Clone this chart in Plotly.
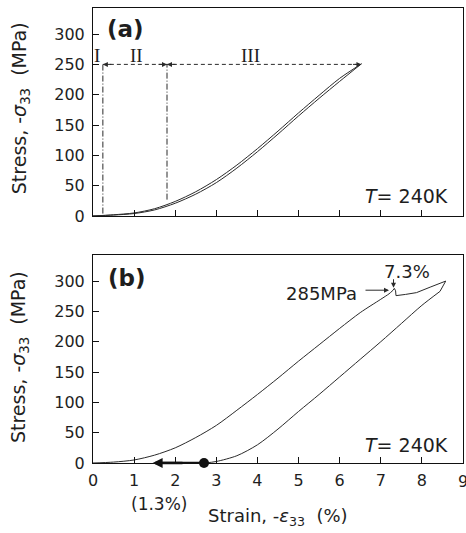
import plotly.graph_objects as go

# ---------------- data ----------------
# panel (a): elastic loop, T = 240K
a_load_strain = [0, 0.5, 1, 1.5, 2, 2.5, 3, 3.5, 4, 4.5, 5, 5.5, 6, 6.53]
a_load_stress = [0, 1.5, 4, 10, 21, 36, 55, 79, 106, 135, 165, 194, 222, 251]
a_unload_strain = [6.53, 6, 5.5, 5, 4.5, 4, 3.5, 3, 2.5, 2, 1.5, 1, 0.5, 0]
a_unload_stress = [251, 227, 199, 170, 140, 111, 84, 60, 40, 24, 12, 5, 2, 0]

# region boundaries in (a)
region_strain = [0.24, 1.8, 6.53]
region_stress = 250
region_labels = ["I", "II", "III"]
region_label_strain = [0.1, 1.07, 3.82]
vline_bottom = [4, 27]

# panel (b): loading up to the stress drop at 7.3 %
b_load_strain = [0, 0.5, 1, 1.5, 2, 2.5, 3, 3.5, 4, 4.5, 5, 5.5, 6, 6.5, 7, 7.2, 7.3]
b_load_stress = [0, 1.5, 5, 13, 25, 42, 62, 87, 113, 140, 168, 195, 222, 248, 270, 279, 285]
# stress drop and continued loading
b_drop_strain = [7.3, 7.33, 7.36, 7.37, 7.6, 7.87, 8.2, 8.58]
b_drop_stress = [285, 288, 284, 276, 278, 281, 290, 300]
# unloading
b_unload_strain = [8.58, 8.44]
b_unload_stress = [300, 283]
b_unload2_strain = [8.44, 8.0, 7.5, 7.0, 6.5, 6.0, 5.5, 5.0, 4.5, 4.0, 3.5, 3.0, 2.72]
b_unload2_stress = [283, 260, 230, 200, 171, 142, 113, 85, 56, 30, 12, 2.5, 0]

residual_strain = 2.7
recovered_to = 1.45
drop_stress = 285
drop_strain = 7.3

x_ticks = list(range(0, 10))
x_ticklabels = [str(v) for v in x_ticks]
y_ticks = [0, 50, 100, 150, 200, 250, 300]

# ---------------- figure ----------------
FONT = "DejaVu Sans"
INK = "#1e1e1e"
LINE = "#2a2a2a"

fig = go.Figure()

def curve(xs, ys, xa, ya, smooth=True):
    fig.add_trace(go.Scatter(x=xs, y=ys, mode="lines",
                             line=dict(color=LINE, width=1,
                                       shape="spline" if smooth else "linear",
                                       smoothing=0.8),
                             xaxis=xa, yaxis=ya))

# (a) curves
curve(a_load_strain, a_load_stress, "x", "y")
curve(a_unload_strain, a_unload_stress, "x", "y")
# vertical dash-dot lines
for xs, yb in zip(region_strain[:2], vline_bottom):
    fig.add_trace(go.Scatter(x=[xs, xs], y=[yb, region_stress], mode="lines",
                             line=dict(color=LINE, width=1, dash="6px,2px,1px,2px"),
                             xaxis="x", yaxis="y"))
# horizontal dashed line
fig.add_trace(go.Scatter(x=[region_strain[0], region_strain[2]],
                         y=[region_stress, region_stress], mode="lines",
                         line=dict(color=LINE, width=1, dash="4px,3px"),
                         xaxis="x", yaxis="y"))

# (b) curves
curve(b_load_strain, b_load_stress, "x2", "y2")
curve(b_drop_strain, b_drop_stress, "x2", "y2", smooth=False)
curve(b_unload_strain, b_unload_stress, "x2", "y2", smooth=False)
curve(b_unload2_strain, b_unload2_stress, "x2", "y2")
fig.add_trace(go.Scatter(x=[recovered_to + 0.1, residual_strain], y=[0, 0], mode="lines",
                         line=dict(color="#111", width=2.5), cliponaxis=False,
                         xaxis="x2", yaxis="y2"))
fig.add_trace(go.Scatter(x=[residual_strain], y=[0], mode="markers",
                         marker=dict(color="#111", size=10), cliponaxis=False,
                         xaxis="x2", yaxis="y2"))

ann = []
def arrow(xref, yref, x, y, ax, ay, width=1, size=1):
    ann.append(dict(xref=xref, yref=yref, x=x, y=y, ax=ax, ay=ay, text="",
                    showarrow=True, arrowhead=2, arrowsize=size, arrowwidth=width,
                    arrowcolor=LINE, standoff=0, startstandoff=0))

def label(xref, yref, x, y, text, size, family=FONT, xanchor="center", angle=0, **kw):
    ann.append(dict(xref=xref, yref=yref, x=x, y=y, text=text, showarrow=False,
                    xanchor=xanchor, yanchor=kw.pop("yanchor", "middle"), textangle=angle,
                    font=dict(family=family, size=size, color=INK), **kw))

# region arrows
arrow("x", "y", region_strain[0], region_stress, 10, 0)
arrow("x", "y", region_strain[1], region_stress, -10, 0)
arrow("x", "y", region_strain[1], region_stress, 10, 0)
arrow("x", "y", region_strain[2], region_stress, -10, 0)
for lab, xs in zip(region_labels, region_label_strain):
    label("x", "y", xs, region_stress, lab, 19, family="Liberation Serif",
          yanchor="bottom", yshift=-4)

# panel labels
label("x", "y", 0.8, 308, "<b>(a)</b>", 23)
label("x2", "y2", 0.83, 305, "<b>(b)</b>", 23)
# temperature labels
label("x", "y", 8.69, 33, "<i>T</i>= 240K", 19, xanchor="right")
label("x2", "y2", 8.69, 29.5, "<i>T</i>= 240K", 19, xanchor="right")

# (b) annotations
label("x2", "y2", 5.56, 280, "285MPa", 18)
arrow("x2", "y2", drop_strain - 0.1, drop_stress, -25, 0)
label("x2", "y2", 7.64, 316, "7.3%", 18)
arrow("x2", "y2", drop_strain + 0.01, 289, 0, -10)
# recovery arrow
ann.append(dict(xref="x2", yref="y2", x=recovered_to, y=0,
                ax=(residual_strain - recovered_to) * 41.1 - 20, ay=0, text="",
                showarrow=True, arrowhead=2, arrowsize=0.8, arrowwidth=2.5,
                arrowcolor="#111", standoff=0))
# last x tick label (clipped at the page edge, as in the original)
label("x2", "y2", x_ticks[-1], 0, x_ticklabels[-1], 16, yshift=-19)

# axis titles
ytitle = "Stress, -<i>σ</i><sub>33</sub>  (MPa)"
label("paper", "paper", -0.197, 0.780, ytitle, 19, angle=-90)
label("paper", "paper", -0.197, 0.233, ytitle, 19, angle=-90)
label("paper", "paper", 0.5, -0.118, "Strain, -<i>ε</i><sub>33</sub>  (%)", 18)
label("paper", "paper", 0.178, -0.09, "(1.3%)", 17)

axis_common = dict(showline=True, mirror=True, linecolor="#111", linewidth=1,
                   ticks="inside", ticklen=6, tickcolor="#111", showgrid=False,
                   zeroline=False, tickfont=dict(family=FONT, size=16, color=INK))

fig.update_layout(
    width=466, height=533,
    margin=dict(l=93, r=3, t=8, b=70),
    paper_bgcolor="white", plot_bgcolor="white",
    showlegend=False,
    annotations=ann,
    xaxis=dict(axis_common, range=[0, 9], tickvals=x_ticks, showticklabels=False,
               anchor="y"),
    yaxis=dict(axis_common, range=[0, 343], tickvals=y_ticks, domain=[0.5429, 1],
               anchor="x", ticklabelstandoff=4),
    xaxis2=dict(axis_common, range=[0, 9], tickvals=x_ticks[:-1],
                ticktext=x_ticklabels[:-1], anchor="y2", ticklabelstandoff=3),
    yaxis2=dict(axis_common, range=[0, 343], tickvals=y_ticks, domain=[0, 0.4571],
                anchor="x2", ticklabelstandoff=4),
)

fig.write_html("out.html", config={"displayModeBar": False},
               post_script="document.body.style.margin='0px';document.body.style.overflow='hidden';")
